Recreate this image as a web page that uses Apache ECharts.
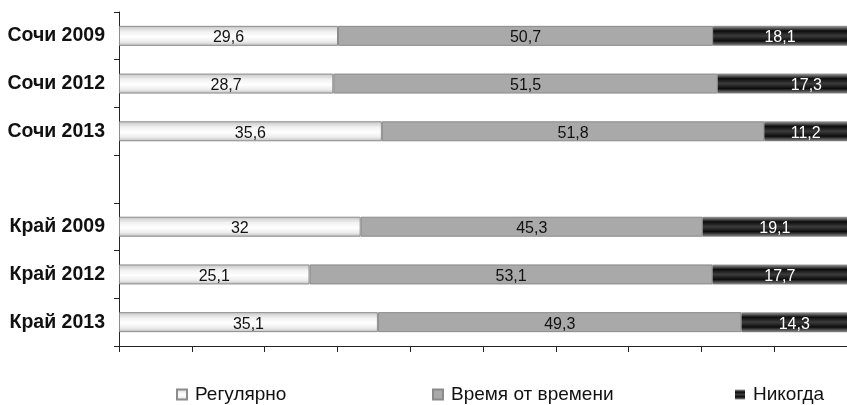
<!DOCTYPE html>
<html>
<head>
<meta charset="utf-8">
<script src="https://cdn.jsdelivr.net/npm/echarts@6/dist/echarts.min.js"></script>
<style>
html,body{margin:0;padding:0;background:#fff;}
#c{width:847px;height:405px;}
</style>
</head>
<body>
<div id="c"></div>
<script>
var categories = ['Сочи 2009', 'Сочи 2012', 'Сочи 2013', '', 'Край 2009', 'Край 2012', 'Край 2013'];
var seriesNames = ['Регулярно', 'Время от времени', 'Никогда'];
var regular = [29.6, 28.7, 35.6, null, 32, 25.1, 35.1];
var sometimes = [50.7, 51.5, 51.8, null, 45.3, 53.1, 49.3];
var never = [18.1, 17.3, 11.2, null, 19.1, 17.7, 14.3];

var raw = [regular, sometimes, never];
var totals = categories.map(function (c, i) {
  var s = 0;
  raw.forEach(function (arr) { if (arr[i] != null) s += arr[i]; });
  return s;
});
function fmt(v) { return String(v).replace('.', ','); }

var grad = function (stops) {
  return { type: 'linear', x: 0, y: 0, x2: 0, y2: 1,
    colorStops: stops.map(function (s) { return { offset: s[0], color: s[1] }; }) };
};
var styles = [
  { color: grad([[0, '#c4c4c4'], [0.3, '#f2f2f2'], [0.55, '#ffffff'], [0.8, '#ececec'], [1, '#bcbcbc']]), borderColor: '#8c8c8c', borderWidth: 1, labelColor: '#111' },
  { color: '#a9a9a9', borderColor: '#8a8a8a', borderWidth: 1, labelColor: '#111' },
  { color: grad([[0, '#a0a0a0'], [0.25, '#0c0c0c'], [0.5, '#3c3c3c'], [0.75, '#0c0c0c'], [1, '#8c8c8c']]), borderColor: '#555', borderWidth: 0, labelColor: '#fff' }
];

var series = raw.map(function (arr, k) {
  var data = arr.map(function (v, i) {
    if (v == null) return '-';
    var item = { value: v / totals[i] * 100 };
    // label in the reference for Сочи 2012 "Никогда" sits towards the right end
    if (k === 2 && i === 1) item.label = { offset: [24, 2] };
    return item;
  });
  return {
    name: seriesNames[k],
    type: 'bar',
    stack: 'total',
    barWidth: 20,
    data: data,
    itemStyle: { color: styles[k].color, borderColor: styles[k].borderColor, borderWidth: styles[k].borderWidth },
    label: {
      show: true,
      position: 'inside',
      offset: [0, 2],
      color: styles[k].labelColor,
      fontFamily: 'Liberation Sans',
      fontSize: 16,
      formatter: function (p) { return fmt(arr[p.dataIndex]); }
    },
    emphasis: { disabled: true }
  };
});

var legendBase = {
  orient: 'horizontal',
  top: 385,
  padding: 0,
  itemWidth: 10,
  itemHeight: 10,
  itemGap: 8,
  icon: 'rect',
  selectedMode: false,
  textStyle: { fontFamily: 'Liberation Sans', fontSize: 19, color: '#111', padding: [0, 0, 0, 3] }
};
var legendLefts = [176, 432, 735];
var legends = seriesNames.map(function (n, i) {
  return Object.assign({}, legendBase, { left: legendLefts[i], data: [n] });
});

var chart = echarts.init(document.getElementById('c'), null, { renderer: 'canvas' });
chart.setOption({
  animation: false,
  backgroundColor: '#fff',
  grid: { left: 119, right: -6, top: 12, bottom: 59, containLabel: false },
  legend: legends,
  xAxis: {
    type: 'value',
    min: 0,
    max: 100,
    interval: 10,
    axisLine: { show: true, lineStyle: { color: '#222', width: 1 } },
    axisTick: { show: true, length: 6, lineStyle: { color: '#222' } },
    axisLabel: { show: false },
    splitLine: { show: false }
  },
  yAxis: {
    type: 'category',
    inverse: true,
    data: categories,
    axisLine: { show: true, lineStyle: { color: '#222', width: 1 } },
    axisTick: { show: true, length: 5, lineStyle: { color: '#222' } },
    axisLabel: { margin: 14, fontFamily: 'Liberation Sans', fontWeight: 'bold', fontSize: 19.5, color: '#111' }
  },
  series: series
});
</script>
</body>
</html>
